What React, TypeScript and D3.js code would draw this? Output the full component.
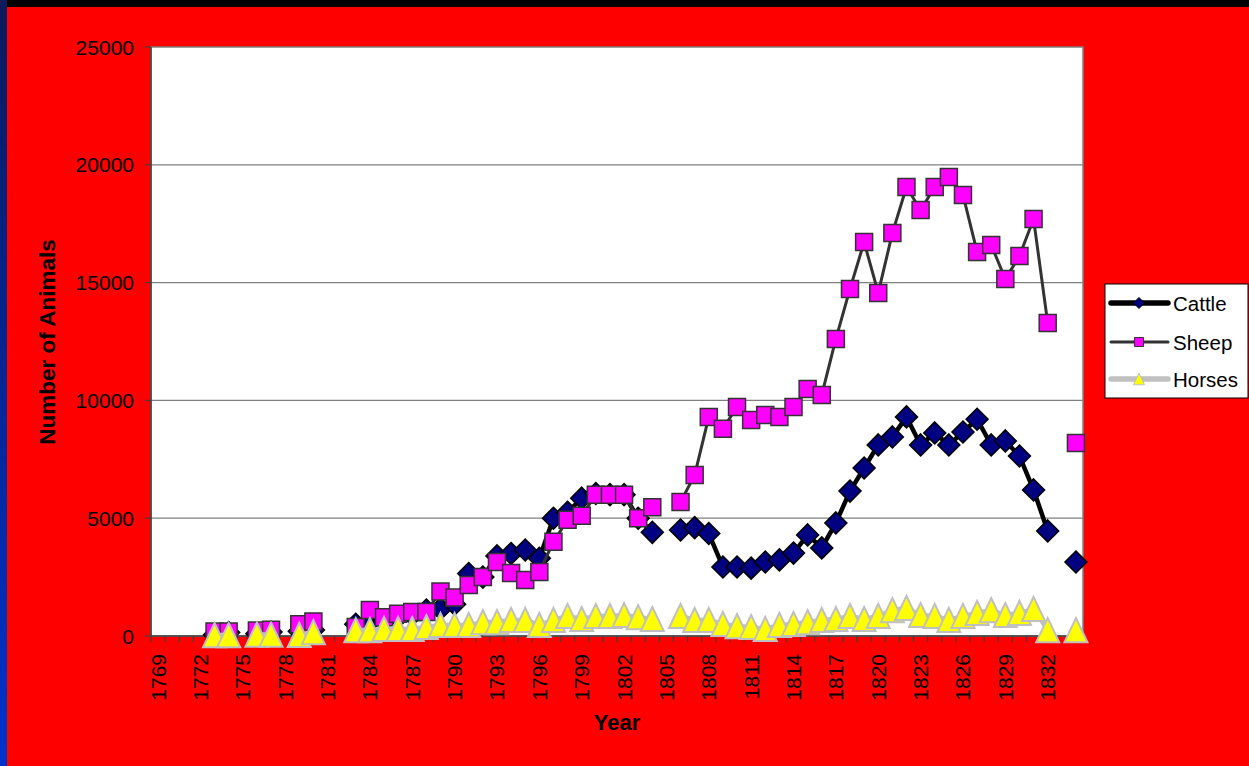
import { useEffect, useRef } from "react";
import * as d3 from "d3";

const YEARS = [
  1769, 1770, 1771, 1772, 1773, 1774, 1775, 1776, 1777, 1778, 1779, 1780, 1781, 1782,
  1783, 1784, 1785, 1786, 1787, 1788, 1789, 1790, 1791, 1792, 1793, 1794, 1795, 1796,
  1797, 1798, 1799, 1800, 1801, 1802, 1803, 1804, 1805, 1806, 1807, 1808, 1809, 1810,
  1811, 1812, 1813, 1814, 1815, 1816, 1817, 1818, 1819, 1820, 1821, 1822, 1823, 1824,
  1825, 1826, 1827, 1828, 1829, 1830, 1831, 1832, 1833, 1834,
];

// one value per year above, null = no record
const CATTLE = [
  null, null, null, null, 50, 150, null, 100, 170, null, 200, 250, null, null,
  500, 600, 650, 800, 900, 1100, 1150, 1350, 2650, 2500, 3400, 3500, 3650, 3300,
  5000, 5250, 5850, 6050, 6000, 6000, 5000, 4400, null, 4500, 4600, 4350, 2930, 2930,
  2880, 3140, 3230, 3520, 4290, 3740, 4800, 6150, 7130, 8110, 8450, 9300, 8110, 8620,
  8110, 8660, 9200, 8110, 8280, 7640, 6200, 4460, null, 3140,
];

const SHEEP = [
  null, null, null, null, 190, 190, null, 230, 270, null, 500, 620, null, null,
  380, 1100, 800, 940, 1020, 1020, 1890, 1630, 2160, 2500, 3140, 2670, 2380, 2720,
  4000, 4930, 5100, 6000, 6000, 6000, 5000, 5470, null, 5690, 6830, 9300, 8800, 9720,
  9170, 9380, 9300, 9720, 10480, 10230, 12610, 14730, 16720, 14560, 17100, 19060, 18080, 19060,
  19480, 18720, 16300, 16600, 15150, 16130, 17700, 13290, null, 8190,
];

const HORSES = [
  null, null, null, null, 40, 40, null, 60, 60, null, 50, 160, null, null,
  250, 250, 300, 300, 300, 380, 470, 470, 470, 590, 590, 680, 680, 470,
  680, 850, 720, 850, 850, 890, 800, 720, null, 850, 680, 680, 510, 420,
  380, 300, 470, 510, 590, 680, 720, 850, 720, 850, 1100, 1190, 890, 850,
  680, 850, 980, 1100, 890, 980, 1150, 250, null, 250,
];

const Y_TICKS = [0, 5000, 10000, 15000, 20000, 25000];
const YEAR_LABELS = [1769, 1772, 1775, 1778, 1781, 1784, 1787, 1790, 1793, 1796, 1799, 1802, 1805, 1808, 1811, 1814, 1817, 1820, 1823, 1826, 1829, 1832];

const FONT = "'Liberation Sans', Arial, sans-serif";

type Series = {
  name: string;
  values: (number | null)[];
  line: string;
  lineWidth: number;
  shape: "diamond" | "square" | "triangle";
  fill: string;
  stroke: string;
  strokeWidth: number;
};

const SERIES: Series[] = [
  { name: "Cattle", values: CATTLE, line: "#000000", lineWidth: 4.5, shape: "diamond", fill: "#000080", stroke: "#000000", strokeWidth: 1.5 },
  { name: "Sheep", values: SHEEP, line: "#333333", lineWidth: 3, shape: "square", fill: "#FF00FF", stroke: "#333333", strokeWidth: 1.5 },
  { name: "Horses", values: HORSES, line: "#C0C0C0", lineWidth: 4.5, shape: "triangle", fill: "#FFFF00", stroke: "#C0C0C0", strokeWidth: 2 },
];

function markerPath(shape: Series["shape"], r: number) {
  if (shape === "diamond") return `M0,${-r}L${r},0L0,${r}L${-r},0Z`;
  if (shape === "square") return `M${-r},${-r}H${r}V${r}H${-r}Z`;
  return `M0,${-r * 1.05}L${r},${r * 1.05}L${-r},${r * 1.05}Z`;
}

export default function App() {
  const ref = useRef<SVGSVGElement>(null);

  useEffect(() => {
    if (!ref.current) return;
    const width = 1249;
    const height = 766;
    const plot = { left: 151, right: 1083, top: 47, bottom: 636 };

    const svg = d3.select(ref.current);
    svg.selectAll("*").remove();

    // background: dark strips top/left, then red
    const defs = svg.append("defs");
    const grad = defs.append("linearGradient").attr("id", "leftStrip").attr("x1", 0).attr("y1", 0).attr("x2", 0).attr("y2", 1);
    grad.append("stop").attr("offset", "0%").attr("stop-color", "#0A1A5C");
    grad.append("stop").attr("offset", "100%").attr("stop-color", "#0033CC");

    svg.append("rect").attr("width", width).attr("height", height).attr("fill", "#000000");
    svg.append("rect").attr("x", 0).attr("y", 0).attr("width", 7).attr("height", height).attr("fill", "url(#leftStrip)");
    svg.append("rect").attr("x", 7).attr("y", 7).attr("width", width - 7).attr("height", height - 7).attr("fill", "#FF0000");

    const x = d3.scaleBand<number>().domain(YEARS).range([plot.left, plot.right]).padding(0);
    const cx = (yr: number) => (x(yr) as number) + x.bandwidth() / 2;
    const y = d3.scaleLinear().domain([0, 25000]).range([plot.bottom, plot.top]);

    // plot area
    svg.append("rect")
      .attr("x", plot.left).attr("y", plot.top)
      .attr("width", plot.right - plot.left).attr("height", plot.bottom - plot.top)
      .attr("fill", "#FFFFFF").attr("stroke", "#808080").attr("stroke-width", 1.5);

    // gridlines
    svg.append("g").selectAll("line")
      .data(Y_TICKS.filter((d) => d > 0 && d < 25000))
      .enter().append("line")
      .attr("x1", plot.left).attr("x2", plot.right)
      .attr("y1", (d) => y(d)).attr("y2", (d) => y(d))
      .attr("stroke", "#808080").attr("stroke-width", 1.2);

    // y axis
    const yAxis = svg.append("g");
    yAxis.append("line")
      .attr("x1", plot.left).attr("x2", plot.left).attr("y1", plot.top).attr("y2", plot.bottom)
      .attr("stroke", "#404040").attr("stroke-width", 1.5);
    yAxis.selectAll("line.tick").data(Y_TICKS).enter().append("line")
      .attr("class", "tick")
      .attr("x1", plot.left - 6).attr("x2", plot.left)
      .attr("y1", (d) => y(d)).attr("y2", (d) => y(d))
      .attr("stroke", "#404040").attr("stroke-width", 1.2);
    yAxis.selectAll("text").data(Y_TICKS).enter().append("text")
      .attr("x", 134).attr("y", (d) => y(d))
      .attr("text-anchor", "end").attr("dominant-baseline", "central")
      .style("font-family", FONT).style("font-size", "21px").attr("fill", "#000")
      .text((d) => String(d));

    // x axis
    const xAxis = svg.append("g");
    xAxis.append("line")
      .attr("x1", plot.left).attr("x2", plot.right).attr("y1", plot.bottom).attr("y2", plot.bottom)
      .attr("stroke", "#404040").attr("stroke-width", 1.5);
    xAxis.selectAll("line.tick").data([...YEARS, YEARS[YEARS.length - 1] + 1]).enter().append("line")
      .attr("class", "tick")
      .attr("x1", (d, i) => plot.left + i * x.bandwidth()).attr("x2", (d, i) => plot.left + i * x.bandwidth())
      .attr("y1", plot.bottom).attr("y2", plot.bottom + 6)
      .attr("stroke", "#404040").attr("stroke-width", 1.2);
    xAxis.selectAll("text").data(YEAR_LABELS).enter().append("text")
      .attr("transform", (d) => `translate(${cx(d)},654) rotate(-90)`)
      .attr("text-anchor", "end").attr("dominant-baseline", "central")
      .style("font-family", FONT).style("font-size", "21px").attr("fill", "#000")
      .text((d) => String(d));

    // axis titles
    svg.append("text")
      .attr("transform", `translate(47,342) rotate(-90)`)
      .attr("text-anchor", "middle").attr("dominant-baseline", "central")
      .style("font-family", FONT).style("font-size", "22.5px").style("font-weight", "bold")
      .text("Number of Animals");
    svg.append("text")
      .attr("x", 617).attr("y", 722)
      .attr("text-anchor", "middle").attr("dominant-baseline", "central")
      .style("font-family", FONT).style("font-size", "22px").style("font-weight", "bold")
      .text("Year");

    // series: line then markers, in order
    SERIES.forEach((s) => {
      const pts = YEARS.map((yr, i) => ({ yr, v: s.values[i] }));
      const line = d3.line<{ yr: number; v: number | null }>()
        .defined((d) => d.v !== null)
        .x((d) => cx(d.yr))
        .y((d) => y(d.v as number));
      svg.append("path")
        .attr("d", line(pts))
        .attr("fill", "none")
        .attr("stroke", s.line)
        .attr("stroke-width", s.lineWidth)
        .attr("stroke-linejoin", "round");
      const r = s.shape === "diamond" ? 11 : s.shape === "square" ? 8.5 : 11.5;
      svg.append("g").selectAll("path")
        .data(pts.filter((d) => d.v !== null))
        .enter().append("path")
        .attr("transform", (d) => `translate(${cx(d.yr)},${y(d.v as number)})`)
        .attr("d", markerPath(s.shape, r))
        .attr("fill", s.fill)
        .attr("stroke", s.stroke)
        .attr("stroke-width", s.strokeWidth);
    });

    // legend
    const lg = svg.append("g");
    lg.append("rect")
      .attr("x", 1105).attr("y", 284).attr("width", 143).attr("height", 114)
      .attr("fill", "#FFFFFF").attr("stroke", "#000").attr("stroke-width", 1);
    const rowY = [303, 342, 379];
    SERIES.forEach((s, i) => {
      const g = lg.append("g").attr("transform", `translate(0,${rowY[i]})`);
      g.append("line").attr("x1", 1111).attr("x2", 1168).attr("y1", 0).attr("y2", 0)
        .attr("stroke", s.line).attr("stroke-width", s.name === "Sheep" ? 3 : 5.5).attr("stroke-linecap", "round");
      g.append("path")
        .attr("transform", "translate(1139,0)")
        .attr("d", markerPath(s.shape, s.shape === "square" ? 4.5 : 5.5))
        .attr("fill", s.fill).attr("stroke", s.stroke).attr("stroke-width", 1);
      g.append("text")
        .attr("x", 1173).attr("y", 0).attr("dominant-baseline", "central")
        .style("font-family", FONT).style("font-size", "20.5px").attr("fill", "#000")
        .text(s.name);
    });
  }, []);

  return (
    <svg
      ref={ref}
      width={1249}
      height={766}
      style={{ position: "absolute", left: 0, top: 0, display: "block" }}
    />
  );
}
